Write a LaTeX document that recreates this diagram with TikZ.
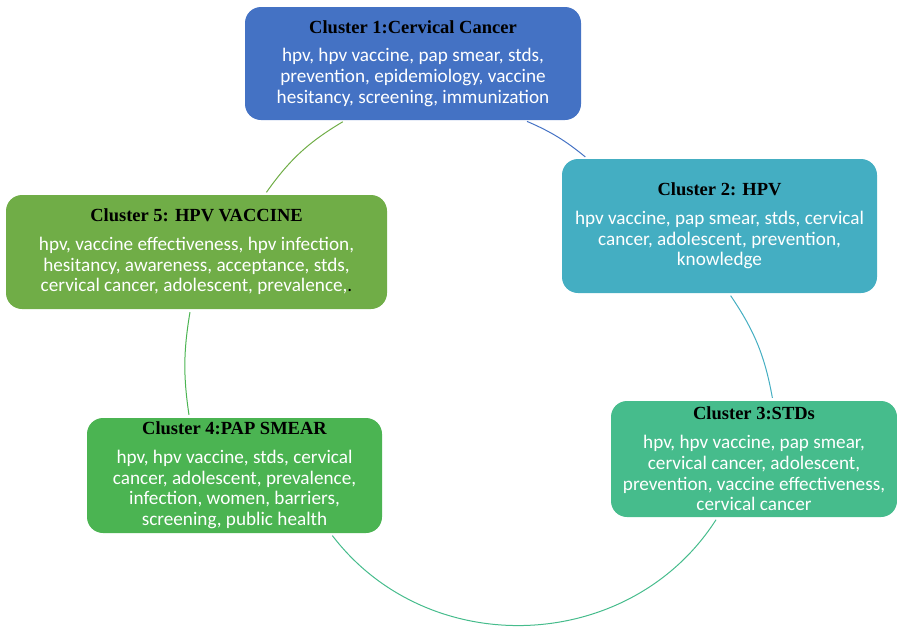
\documentclass[tikz,border=0pt]{standalone}
\usepackage{fontspec}
\setmainfont{Carlito}
\newfontfamily\titlefont{Liberation Serif}
\usetikzlibrary{calc}
\definecolor{clblue}{HTML}{4472C4}
\definecolor{clteal}{HTML}{44AEC2}
\definecolor{clsea}{HTML}{46BC8C}
\definecolor{clgreen}{HTML}{4BB452}
\definecolor{clolive}{HTML}{70AD47}
\newcommand{\ctitle}[1]{{\titlefont\fontsize{18.5}{20.7}\selectfont\bfseries\color{black}#1}\\[8pt]}
\tikzset{
  cluster/.style={fill=#1, rounded corners=16pt, inner sep=0pt, align=center, text=white, font=\fontsize{19.2}{20.7}\selectfont},
  link/.style={draw=#1, line width=1pt, shorten <=3pt, shorten >=3pt}
}

\begin{document}
\begin{tikzpicture}[x=1pt, y=1pt]
\useasboundingbox (0,0) rectangle (897,-630);
% clusters
\node[cluster=clblue, minimum width=336pt, minimum height=113pt] (c1) at (413,-63.5)
  {\ctitle{Cluster 1:Cervical Cancer}hpv, hpv vaccine, pap smear, stds,\\prevention, epidemiology, vaccine\\hesitancy, screening, immunization};
\node[cluster=clteal, minimum width=315pt, minimum height=134pt] (c2) at (719.5,-226)
  {\ctitle{Cluster 2: HPV}hpv vaccine, pap smear, stds, cervical\\cancer, adolescent, prevention,\\knowledge};
\node[cluster=clsea, minimum width=286pt, minimum height=116pt] (c3) at (754,-459)
  {\ctitle{Cluster 3:STDs}hpv, hpv vaccine, pap smear,\\cervical cancer, adolescent,\\prevention, vaccine effectiveness,\\cervical cancer};
\node[cluster=clgreen, minimum width=295pt, minimum height=115pt] (c4) at (234.5,-475.5)
  {\ctitle{Cluster 4:PAP SMEAR}hpv, hpv vaccine, stds, cervical\\cancer, adolescent, prevalence,\\infection, women, barriers,\\screening, public health};
\node[cluster=clolive, minimum width=381pt, minimum height=114pt] (c5) at (196.5,-252)
  {\ctitle{Cluster 5: HPV VACCINE}hpv, vaccine effectiveness, hpv infection,\\hesitancy, awareness, acceptance, stds,\\cervical cancer, adolescent, prevalence,{\color{black}.}};
% cycle arcs
\draw[link=clblue] (c1.-27) to[bend left=8] (c2.153);
\draw[link=clteal] (c2.-82) to[bend left=12] (c3.72);
\draw[link=clsea] (c3.-122) to[bend left=55, looseness=1.07] (c4.-31);
\draw[link=clgreen] (c4.128) to[bend left=9] (c5.-96);
\draw[link=clolive] (c5.40) to[bend left=12] (c1.-140);
\end{tikzpicture}
\end{document}
